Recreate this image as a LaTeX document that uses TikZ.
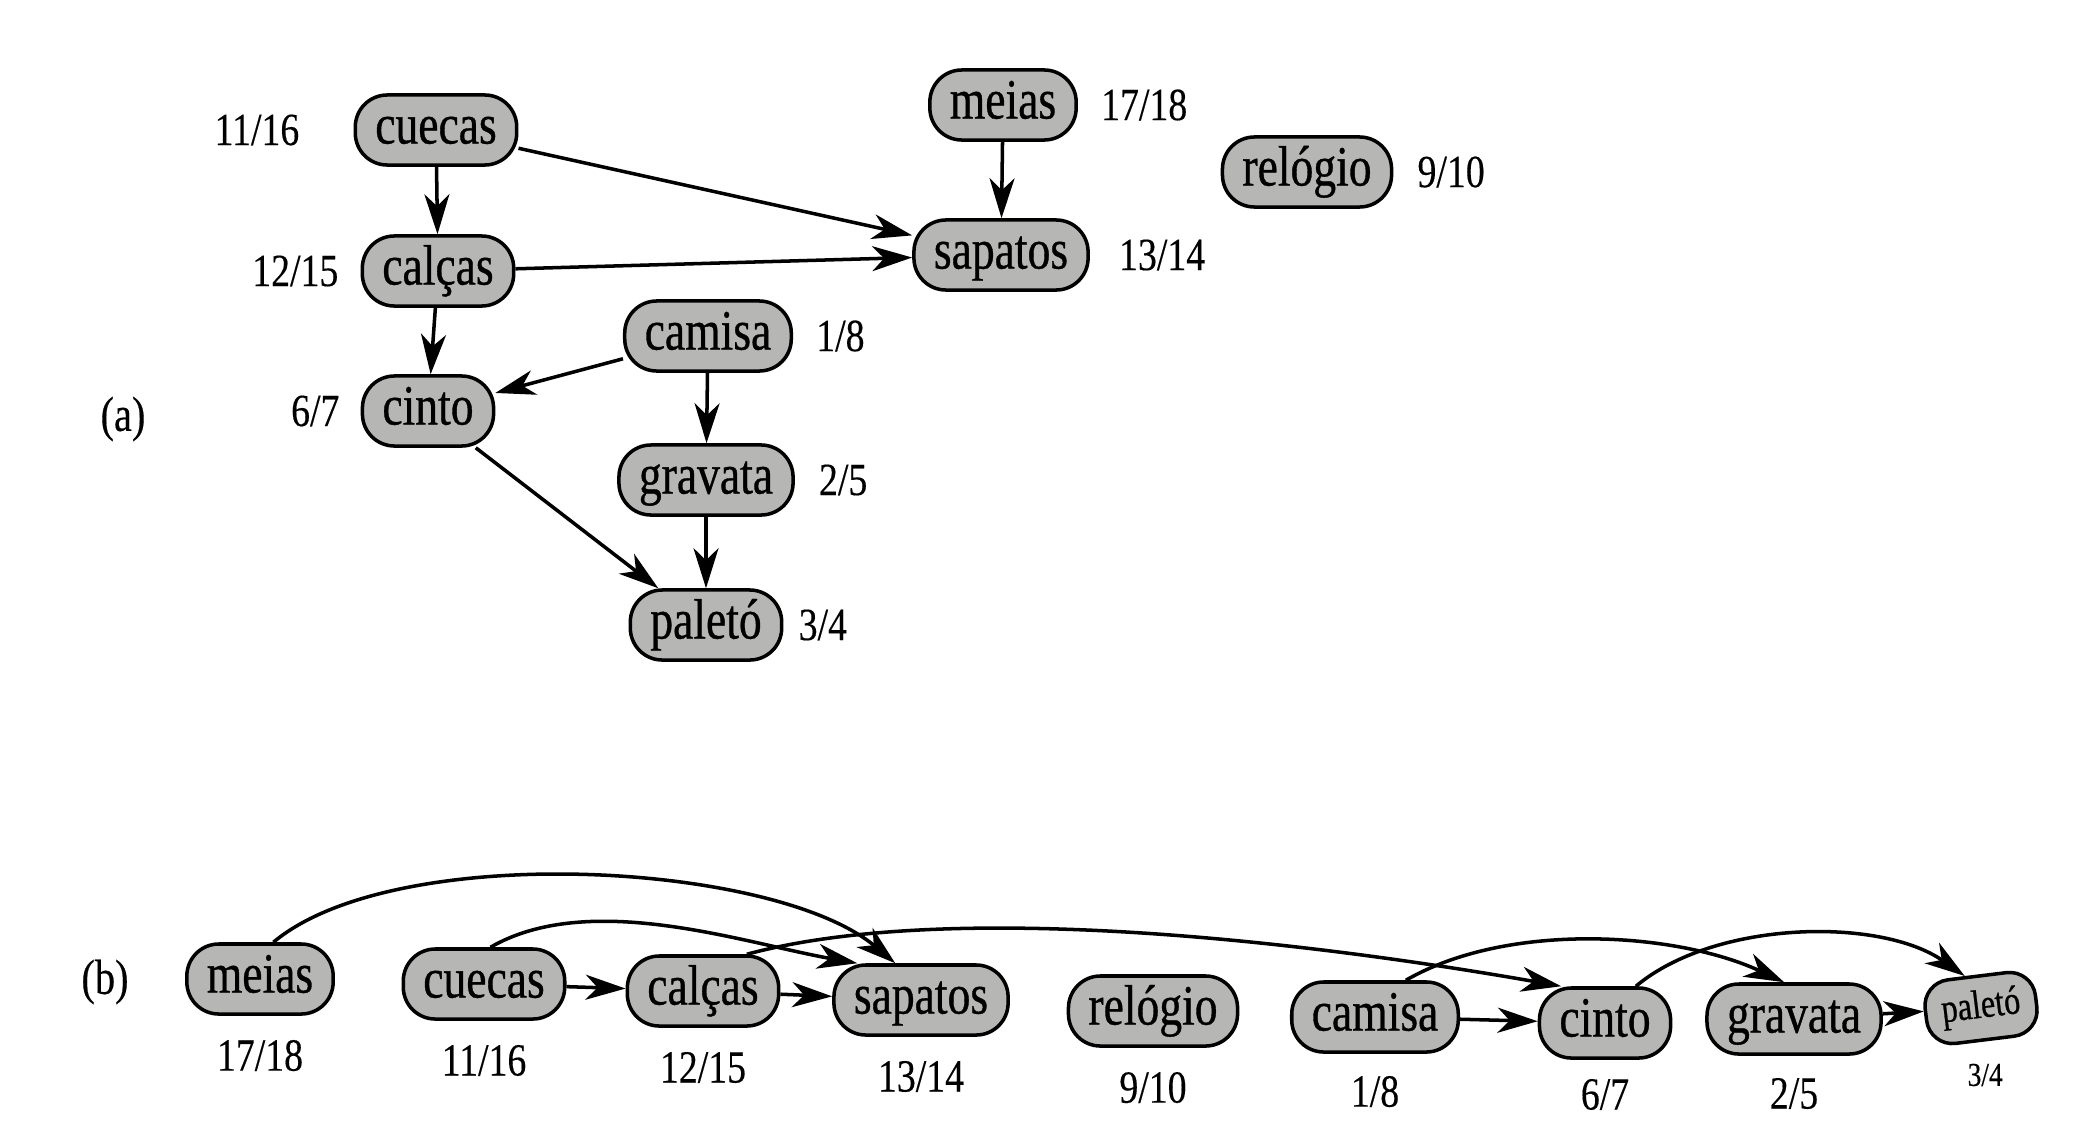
\documentclass[tikz,border=0pt]{standalone}
\usepackage{fontspec}
\setmainfont{Liberation Serif}[FakeStretch=0.82]
\newfontfamily\itemfont{Liberation Serif}[FakeStretch=0.8, FakeBold=0.6]
\newfontfamily\numfont{Liberation Serif}[FakeStretch=0.82, FakeBold=0.3]
\usepackage{tikz}
\usetikzlibrary{arrows.meta,positioning}
\definecolor{node-gray}{HTML}{B6B6B4}

\begin{document}
\begin{tikzpicture}[x=0.01cm, y=0.01cm, node distance=0.2cm,
  item/.style={rectangle, rounded corners=0.32cm, draw=black, line width=1pt, fill=node-gray,
               inner xsep=0.2cm, inner ysep=0pt, minimum height=0.7cm,
               text height=11.3pt, text depth=3.6pt, font=\itemfont\fontsize{16.2}{18}\selectfont},
  num/.style={inner sep=1pt, font=\numfont\fontsize{13.1}{15}\selectfont},
  arr/.style={-{Stealth[length=0.4cm, width=0.25cm, inset=0.12cm]}, line width=1pt}]

  \path[use as bounding box, fill=white] (0,0) rectangle (2080,1120);

  % (a) the graph
  \node[num, font=\numfont\fontsize{14}{16}\selectfont] (partA) at (123,701) {(a)};
  \node[item] (cuecasA) at (436,990) {cuecas};
  \node[item] (meiasA) at (1003,1015) {meias};
  \node[item] (relogioA) at (1307,948) {relógio};
  \node[item] (calcasA) at (438,849) {calças};
  \node[item] (sapatosA) at (1001,865) {sapatos};
  \node[item] (camisaA) at (708,784) {camisa};
  \node[item] (cintoA) at (428,709) {cinto};
  \node[item] (gravataA) at (706,640) {gravata};
  \node[item] (paletoA) at (706,495) {paletó};

  \node[num, left=0.5cm of cuecasA] (cuecasAt) {11/16};
  \node[num, right=0.19cm of meiasA] (meiasAt) {17/18};
  \node[num, right=0.2cm of relogioA] (relogioAt) {9/10};
  \node[num, left=0.18cm of calcasA] (calcasAt) {12/15};
  \node[num, right=0.25cm of sapatosA] (sapatosAt) {13/14};
  \node[num, right=0.19cm of camisaA] (camisaAt) {1/8};
  \node[num, left=0.17cm of cintoA] (cintoAt) {6/7};
  \node[num, right=0.2cm of gravataA] (gravataAt) {2/5};
  \node[num, right=0.11cm of paletoA] (paletoAt) {3/4};

  \draw[arr] (cuecasA) -- (calcasA);
  \draw[arr] (cuecasA) -- (sapatosA);
  \draw[arr] (calcasA) -- (sapatosA);
  \draw[arr] (meiasA) -- (sapatosA);
  \draw[arr] (calcasA) -- (cintoA);
  \draw[arr] (camisaA) -- (cintoA);
  \draw[arr] (camisaA) -- (gravataA);
  \draw[arr] (cintoA) -- (paletoA);
  \draw[arr] (gravataA) -- (paletoA);

  % (b) topological order
  \node[num, font=\numfont\fontsize{14}{16}\selectfont] (partB) at (105,138) {(b)};
  \node[item] (meiasB) at (260,141) {meias};
  \node[item] (cuecasB) at (484,136) {cuecas};
  \node[item] (calcasB) at (703,129) {calças};
  \node[item] (sapatosB) at (921,120) {sapatos};
  \node[item] (relogioB) at (1153,109) {relógio};
  \node[item] (camisaB) at (1375,103) {camisa};
  \node[item] (cintoB) at (1605,97) {cinto};
  \node[item] (gravataB) at (1794,101) {gravata};
  \node[item, rotate=7, inner xsep=0.16cm, minimum height=0.64cm, rounded corners=0.26cm,
        text height=8pt, text depth=2.5pt, font=\itemfont\fontsize{11.5}{13}\selectfont] (paletoB) at (1981,112) {paletó};

  \node[num, below=0.2cm of meiasB] (meiasBt) {17/18};
  \node[num, below=0.2cm of cuecasB] (cuecasBt) {11/16};
  \node[num, below=0.2cm of calcasB] (calcasBt) {12/15};
  \node[num, below=0.2cm of sapatosB] (sapatosBt) {13/14};
  \node[num, below=0.2cm of relogioB] (relogioBt) {9/10};
  \node[num, below=0.18cm of camisaB] (camisaBt) {1/8};
  \node[num, below=0.15cm of cintoB] (cintoBt) {6/7};
  \node[num, below=0.18cm of gravataB] (gravataBt) {2/5};
  \node[num, below=0.18cm of paletoB, font=\numfont\fontsize{9.5}{11}\selectfont] (paletoBt) {3/4};

  \draw[arr] (cuecasB) -- (calcasB);
  \draw[arr] (calcasB) -- (sapatosB);
  \draw[arr] (camisaB) -- (cintoB);
  \draw[arr] (gravataB) -- (paletoB);
  \draw[arr] (meiasB.70) to[out=40, in=140, looseness=0.65] (sapatosB.125);
  \draw[arr] (cuecasB.80) to[out=30, in=170, looseness=0.8] (sapatosB.150);
  \draw[arr] (calcasB.40) to[out=15, in=170, looseness=0.7] (cintoB.140);
  \draw[arr] (camisaB.50) to[out=30, in=155, looseness=0.8] (gravataB.105);
  \draw[arr] (cintoB.50) to[out=40, in=145, looseness=0.8] (paletoB.110);

\end{tikzpicture}
\end{document}
